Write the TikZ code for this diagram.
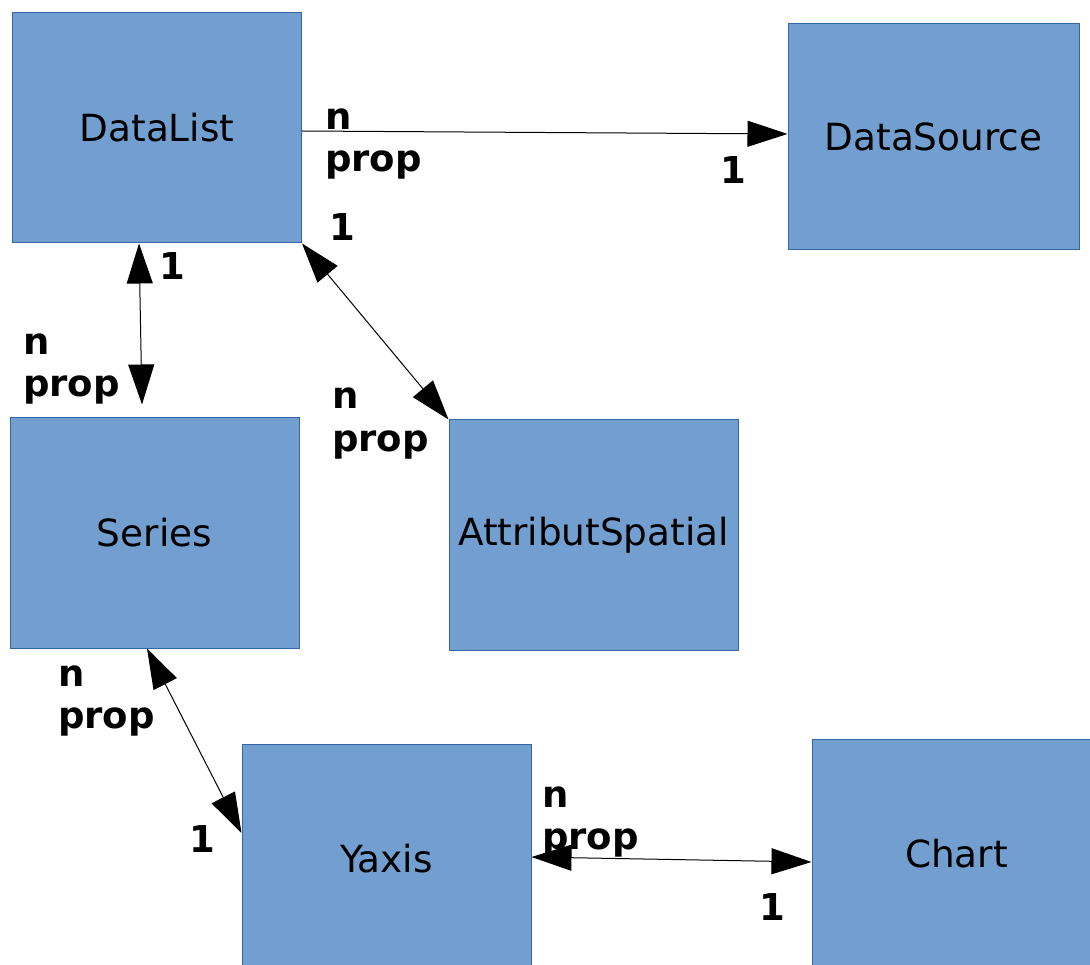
\documentclass[tikz,border=0pt]{standalone}
\usepackage{fontspec}
\setmainfont{DejaVu Sans}
\usetikzlibrary{arrows.meta}
\definecolor{boxfill}{HTML}{729FCF}
\definecolor{boxline}{HTML}{3465A4}
\tikzset{
  entity/.style={draw=boxline, fill=boxfill, line width=1pt,
    minimum width=289pt, minimum height=230pt, inner sep=0pt,
    font=\fontsize{37.4}{45}\selectfont},
  mult/.style={anchor=base west, inner sep=0pt,
    font=\bfseries\fontsize{37}{43}\selectfont},
  assoc/.style={line width=1pt, draw=black},
  head/.tip={Triangle[length=40pt,width=26pt]},
  onehead/.style={assoc, -head},
  twoheads/.style={assoc, head-head},
}
\begin{document}
\begin{tikzpicture}[x=1pt,y=-1pt]
  \clip (0,0) rectangle (1090,965);
  \fill[white] (0,0) rectangle (1090,965);

  % entities
  \node[entity] (datalist)   at (157,128)   {DataList};
  \node[entity, minimum width=291pt, minimum height=226pt]
                (datasource) at (933.5,137) {DataSource};
  \node[entity] (series)     at (154.5,533) {Series};
  \node[entity] (attrib)     at (593.5,535) {AttributSpatial};
  \node[entity] (yaxis)      at (386.5,859) {Yaxis};
  \node[entity] (chart)      at (956.5,854) {Chart};

  % associations
  \draw[onehead] ([yshift=-3pt]datalist.east) -- ([yshift=3pt]datasource.west);
  \draw[twoheads] ([xshift=-18pt]datalist.south) -- ([xshift=-12.5pt,yshift=13pt]series.north);
  \draw[twoheads] (datalist.south east) -- (attrib.north west);
  \draw[twoheads] ([xshift=-7.5pt]series.south) -- ([yshift=26pt]yaxis.west);
  \draw[twoheads] ([yshift=2pt]yaxis.east) -- ([yshift=-8pt]chart.west);

  % multiplicities
  \node[mult] (m1n) at (325,130) {n};
  \node[mult] (m1p) at (325,172) {prop};
  \node[mult] (m1o) at (720,184) {1};

  \node[mult] (m2o) at (159,280) {1};
  \node[mult] (m2n) at (23,355)  {n};
  \node[mult] (m2p) at (23,397)  {prop};

  \node[mult] (m3o) at (329,241) {1};
  \node[mult] (m3n) at (332,409) {n};
  \node[mult] (m3p) at (332,451) {prop};

  \node[mult] (m4n) at (58,686)  {n};
  \node[mult] (m4p) at (58,728)  {prop};
  \node[mult] (m4o) at (189,852) {1};

  \node[mult] (m5n) at (542,807) {n};
  \node[mult] (m5p) at (542,849) {prop};
  \node[mult] (m5o) at (759,920) {1};
\end{tikzpicture}
\end{document}
